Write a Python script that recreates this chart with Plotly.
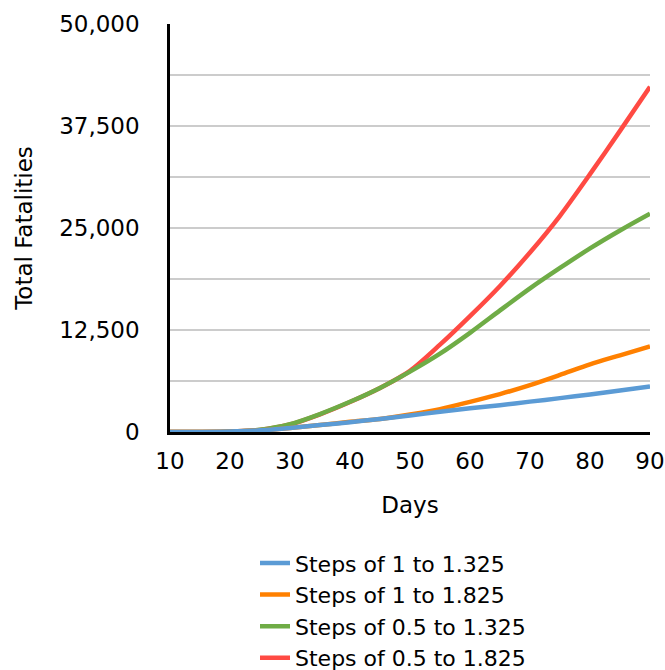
import plotly.graph_objects as go

days = [10, 15, 20, 25, 30, 35, 40, 45, 50, 55, 60, 65, 70, 75, 80, 85, 90]

steps_1_to_1325 = [0, 10, 50, 200, 490, 850, 1200, 1600, 2020, 2480, 2900, 3280, 3720, 4150, 4600, 5080, 5580]
steps_1_to_1825 = [0, 10, 50, 200, 490, 850, 1250, 1600, 2150, 2800, 3700, 4650, 5750, 7000, 8300, 9400, 10480]
steps_05_to_1325 = [0, 10, 40, 270, 950, 2200, 3700, 5400, 7400, 9600, 12150, 14900, 17600, 20100, 22500, 24700, 26750]
steps_05_to_1825 = [0, 5, 30, 250, 920, 2170, 3680, 5400, 7500, 10700, 14200, 17900, 22000, 26500, 31600, 36900, 42300]

series_names = ["Steps of 1 to 1.325", "Steps of 1 to 1.825",
                "Steps of 0.5 to 1.325", "Steps of 0.5 to 1.825"]
series_values = [steps_1_to_1325, steps_1_to_1825, steps_05_to_1325, steps_05_to_1825]
colors = ["#5b9bd5", "#ff8000", "#6fac46", "#ff4a43"]

y_tickvals = [0, 12500, 25000, 37500, 50000]
y_ticktext = ["0", "12,500", "25,000", "37,500", "50,000"]
x_tickvals = [10, 20, 30, 40, 50, 60, 70, 80, 90]

FONT = "DejaVu Sans"

fig = go.Figure()
# draw in reverse so blue is on top like the reference
order = [3, 2, 1, 0]
for i in order:
    fig.add_trace(go.Scatter(
        x=days, y=series_values[i], name=series_names[i], mode="lines",
        line=dict(color=colors[i], width=4.5, shape="spline", smoothing=0.8),
        legendrank=i + 1,
    ))

fig.update_layout(
    width=665, height=670,
    margin=dict(l=170, r=15, t=24, b=238, autoexpand=False),
    paper_bgcolor="white", plot_bgcolor="white",
    font=dict(family=FONT, size=23, color="black"),
    showlegend=True,
    legend=dict(
        orientation="v", x=(255 - 170) / 480, xanchor="left",
        y=-0.27, yanchor="top",
        font=dict(family=FONT, size=22),
        traceorder="normal", itemwidth=30, bgcolor="rgba(0,0,0,0)",
        tracegroupgap=0,
    ),
    xaxis=dict(
        range=[10, 90], tickvals=x_tickvals, showgrid=False, zeroline=False,
        showline=True, linecolor="black", linewidth=2.5,
        ticks="outside", ticklen=7, tickcolor="rgba(0,0,0,0)",
        tickfont=dict(family=FONT, size=23), automargin=False,
        ticklabeloverflow="allow",
        title=dict(text="Days", font=dict(family=FONT, size=23), standoff=24),
    ),
    yaxis=dict(
        range=[0, 50000], tickvals=y_tickvals, ticktext=y_ticktext,
        showgrid=True, gridcolor="#cccccc", gridwidth=1.5, zeroline=False,
        showline=True, linecolor="black", linewidth=2.5,
        ticks="outside", ticklen=23, tickcolor="rgba(0,0,0,0)",
        tickfont=dict(family=FONT, size=23), automargin=False,
        ticklabeloverflow="allow",
        minor=dict(dtick=6250, tick0=0, showgrid=True, gridcolor="#cccccc", gridwidth=1.5),
        title=dict(text="Total Fatalities", font=dict(family=FONT, size=23), standoff=21),
    ),
)

# remove the default 8px page margin so the figure fills the window exactly
fig.write_html(
    "out.html",
    config={"displayModeBar": False},
    post_script="document.body.style.margin='0';document.body.style.overflow='hidden';",
)
